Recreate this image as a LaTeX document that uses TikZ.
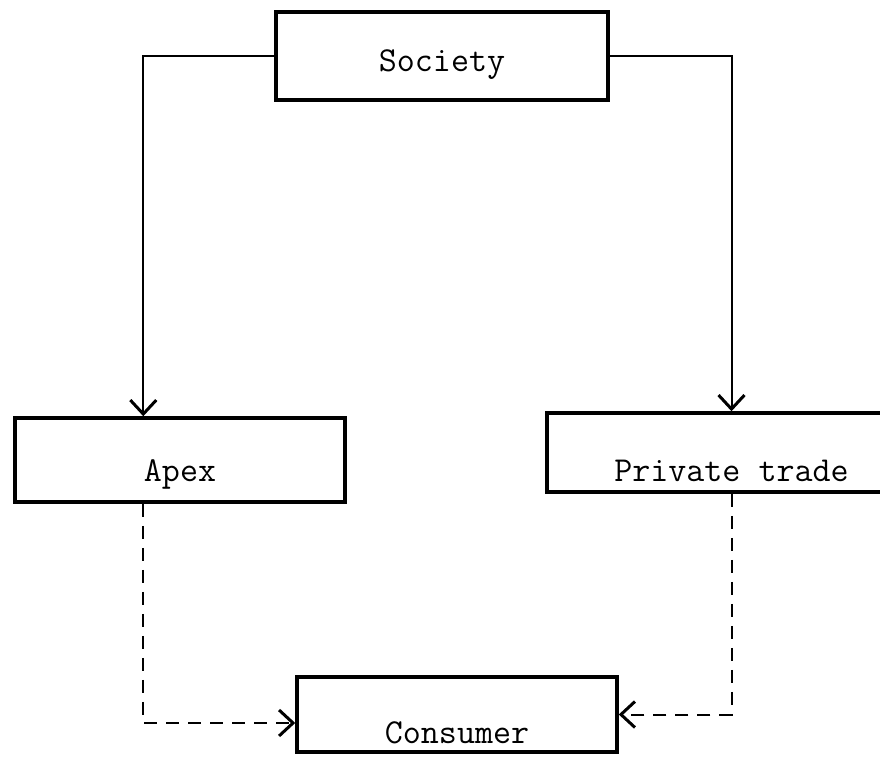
\documentclass[tikz,border=0pt]{standalone}
\usetikzlibrary{arrows.meta,positioning}

\begin{document}
\begin{tikzpicture}[x=1pt,y=-1pt]
			\tikzstyle{Box}		= [draw, line width=3.5pt, inner sep=0pt, text depth=0pt, font=\ttfamily\fontsize{35}{40}\selectfont]
			\tikzstyle{Flow}	= [line width=2pt, -{Straight Barb[length=14pt,width=26pt,line width=3pt]}]
			\tikzstyle{Supply}	= [Flow, dash pattern=on 13pt off 9pt]

			\useasboundingbox (0,0) rectangle (880,759);
			\clip (0,0) rectangle (880,759);

			\node (soc) at (442,56) [Box][minimum width=332pt, minimum height=88pt, text height=32pt] {Society};
			\node (apex) at (180,460) [Box][minimum width=330pt, minimum height=84pt, text height=42pt] {Apex};
			\node (priv) at (731.5,452.5) [Box][minimum width=369pt, minimum height=79pt, text height=57pt] {Private trade};
			\node (cons) at (457,714.5) [Box][minimum width=320pt, minimum height=75pt, text height=57pt] {Consumer};

			\draw (soc.west) -| (apex.130) [Flow];
			\draw (soc.east) -| (priv.north) [Flow];
			\draw (apex.-130) |- (cons.183) [Supply];
			\draw (priv.south) |- (cons.east) [Supply];
\end{tikzpicture}
\end{document}
